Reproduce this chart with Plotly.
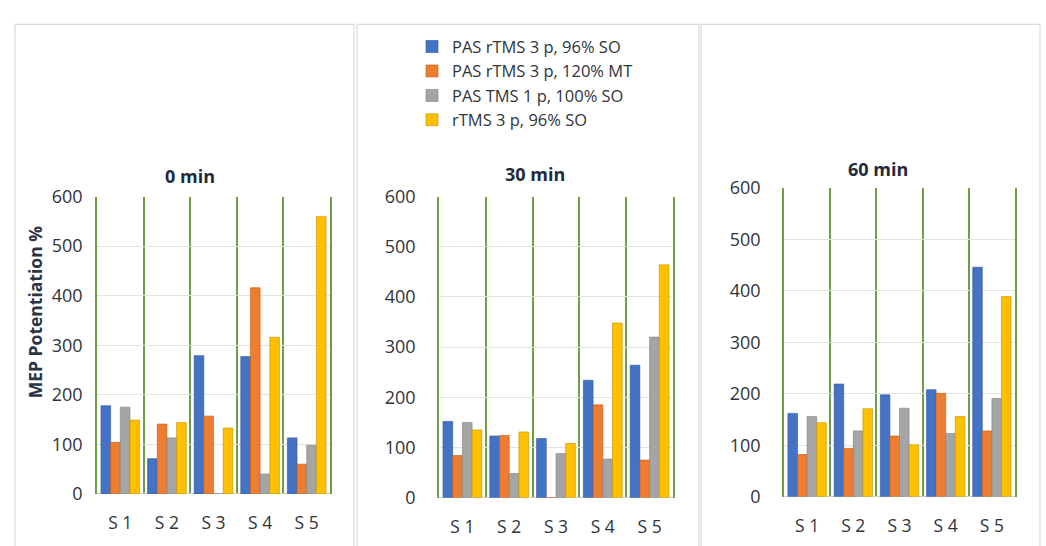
import plotly.graph_objects as go

# Subjects and stimulation protocols
subjects = ["S 1", "S 2", "S 3", "S 4", "S 5"]
protocols = [
    "PAS rTMS 3 p, 96% SO",
    "PAS rTMS 3 p, 120% MT",
    "PAS TMS 1 p, 100% SO",
    "rTMS 3 p, 96% SO",
]
colors = ["#4472C4", "#ED7D31", "#A5A5A5", "#FFC000"]
edge_colors = ["#2F5597", "#C55A11", "#7F7F7F", "#BF9000"]

# MEP potentiation (%) per protocol, one list per time point
min0 = [
    [178, 71, 279, 277, 113],
    [104, 141, 157, 416, 60],
    [175, 113, 0, 40, 98],
    [149, 144, 133, 316, 560],
]
min30 = [
    [152, 123, 118, 234, 264],
    [84, 124, 0, 185, 75],
    [150, 48, 88, 77, 320],
    [135, 131, 108, 348, 464],
]
min60 = [
    [162, 219, 198, 208, 446],
    [82, 94, 118, 201, 128],
    [156, 128, 172, 123, 191],
    [144, 171, 101, 156, 389],
]
panel_titles = ["0 min", "30 min", "60 min"]
y_ticks = [0, 100, 200, 300, 400, 500, 600]

W, H = 1046, 546
FONT = "'Open Sans', sans-serif"
TEXT = "#2F343C"
GREEN = "#6E9E48"

def px(x):
    return x / W

def py(y):
    return 1 - y / H

# plot-area boxes in pixels: (left, right, top, bottom)
boxes = [(97, 330, 192, 503), (439, 673, 192, 507), (784, 1015, 183, 506)]
title_pos = [(190, 170), (535, 168), (878, 163)]
frames = [(15, 354), (357, 699), (701, 1040)]
label_gap = [9, 18, 18]

fig = go.Figure()
datasets = [min0, min30, min60]
for p, data in enumerate(datasets):
    xa = "x" if p == 0 else f"x{p + 1}"
    ya = "y" if p == 0 else f"y{p + 1}"
    for i, name in enumerate(protocols):
        fig.add_trace(go.Bar(
            x=subjects, y=data[i], name=name,
            marker=dict(color=colors[i], line=dict(color=edge_colors[i], width=0.6)),
            xaxis=xa, yaxis=ya, showlegend=(p == 0), legendgroup=f"g{i}",
        ))

layout = dict(
    width=W, height=H, margin=dict(l=0, r=0, t=0, b=0),
    paper_bgcolor="white", plot_bgcolor="white",
    barmode="group", bargap=0.17, bargroupgap=0,
    font=dict(family=FONT, color=TEXT, size=14),
    legend=dict(x=px(412), y=py(17), xanchor="left", yanchor="top",
                font=dict(size=16.5, color=TEXT), tracegroupgap=0,
                itemwidth=30, bgcolor="rgba(0,0,0,0)"),
    showlegend=True,
)

shapes = []
annotations = []
for p, (l, r, t, b) in enumerate(boxes):
    sx = "" if p == 0 else str(p + 1)
    layout[f"xaxis{sx}"] = dict(
        domain=[px(l), px(r)], anchor=f"y{sx}", type="category",
        tickson="boundaries", showgrid=True, gridcolor=GREEN, gridwidth=1.5,
        ticks="", showline=False, zeroline=False, ticklabelstandoff=17,
        tickfont=dict(size=17.5, color=TEXT),
    )
    layout[f"yaxis{sx}"] = dict(
        domain=[py(b), py(t)], anchor=f"x{sx}", range=[0, 600],
        tickvals=y_ticks, showgrid=True, gridcolor="#E3E3E3", gridwidth=1,
        zeroline=True, zerolinecolor="#D0D0D0", zerolinewidth=1,
        showline=True, mirror=True, linecolor=GREEN, linewidth=1.5,
        ticks="", ticklabelstandoff=label_gap[p],
        tickfont=dict(size=18, color=TEXT),
    )
    tx, ty = title_pos[p]
    annotations.append(dict(
        text=f"<b>{panel_titles[p]}</b>", x=px(tx), y=py(ty), xref="paper", yref="paper",
        xanchor="center", yanchor="middle",
        showarrow=False, font=dict(size=18, color="#1F2A3A"),
    ))
    fl, fr = frames[p]
    shapes.append(dict(type="rect", xref="paper", yref="paper",
                       x0=px(fl), x1=px(fr), y0=-0.05, y1=py(12),
                       line=dict(color="#DADADA", width=1.2), fillcolor="rgba(0,0,0,0)",
                       layer="below"))

annotations.append(dict(
    text="<b>MEP Potentiation %</b>", x=px(35), y=py(313), xref="paper", yref="paper",
    xanchor="center", yanchor="middle",
    showarrow=False, textangle=-90, font=dict(size=17.5, color="#2A3444"),
))

layout["shapes"] = shapes
layout["annotations"] = annotations
fig.update_layout(**layout)
fig.write_html("out.html")
